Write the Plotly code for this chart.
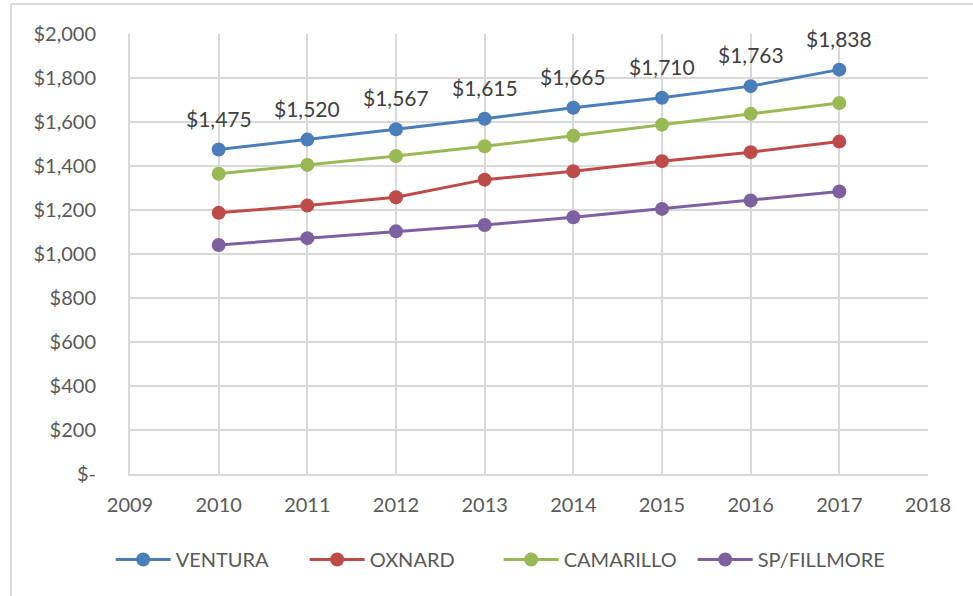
import plotly.graph_objects as go

years = [2010, 2011, 2012, 2013, 2014, 2015, 2016, 2017]
ventura = [1475, 1520, 1567, 1615, 1665, 1710, 1763, 1838]
oxnard = [1187, 1220, 1258, 1338, 1376, 1422, 1463, 1511]
camarillo = [1365, 1405, 1445, 1490, 1537, 1588, 1637, 1686]
sp_fillmore = [1041, 1072, 1103, 1132, 1167, 1205, 1243, 1284]

y_ticks = [0, 200, 400, 600, 800, 1000, 1200, 1400, 1600, 1800, 2000]
y_labels = ["$-", "$200", "$400", "$600", "$800", "$1,000", "$1,200",
            "$1,400", "$1,600", "$1,800", "$2,000"]

series = [
    ("VENTURA", ventura, "#4A7EBB"),
    ("OXNARD", oxnard, "#BE4B48"),
    ("CAMARILLO", camarillo, "#98B954"),
    ("SP/FILLMORE", sp_fillmore, "#7D60A0"),
]

FONT = "Lato, sans-serif"

fig = go.Figure()
for name, vals, col in series:
    fig.add_trace(go.Scatter(
        x=years, y=vals, name=name, mode="lines+markers",
        line=dict(color=col, width=3),
        marker=dict(color=col, size=14),
    ))

# data labels on the top series
for x, v in zip(years, ventura):
    fig.add_annotation(x=x, y=v, text=f"${v:,}", showarrow=False,
                       yanchor="bottom", yshift=17,
                       font=dict(family=FONT, size=21, color="#404040"))

fig.update_layout(
    width=973, height=596,
    margin=dict(l=130, r=45, t=34, b=122),
    paper_bgcolor="white", plot_bgcolor="white",
    font=dict(family=FONT, size=20, color="#595959"),
    showlegend=True,
    legend=dict(orientation="h", x=0.462, xanchor="center", y=-0.15,
                yanchor="top", font=dict(size=20, color="#595959"),
                itemwidth=55, entrywidth=124, entrywidthmode="pixels"),
)
fig.update_xaxes(range=[2009, 2018], dtick=1, tick0=2009,
                 showgrid=True, gridcolor="#D9D9D9", gridwidth=2,
                 showline=True, linecolor="#D9D9D9", linewidth=2,
                 ticks="", ticklabelstandoff=12, zeroline=False, fixedrange=True)
fig.update_yaxes(range=[0, 2000], tickvals=y_ticks, ticktext=y_labels,
                 showgrid=True, gridcolor="#D9D9D9", gridwidth=2,
                 showline=True, linecolor="#D9D9D9", linewidth=2,
                 ticks="", ticklabelstandoff=28, zeroline=False, fixedrange=True)

# chart outer border (left and top edges visible)
fig.add_shape(type="line", xref="paper", yref="paper",
              x0=-119/798, x1=-119/798, y0=-2, y1=1 + 30/440,
              line=dict(color="#D9D9D9", width=2))
fig.add_shape(type="line", xref="paper", yref="paper",
              x0=-119/798, x1=2, y0=1 + 30/440, y1=1 + 30/440,
              line=dict(color="#D9D9D9", width=2))

fig.write_html("out.html", config={"displayModeBar": False},
               post_script="document.body.style.margin='0';")
